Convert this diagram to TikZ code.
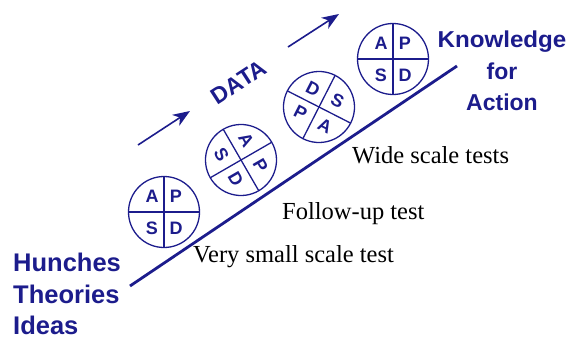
\documentclass[tikz,border=0pt]{standalone}
\usepackage{fontspec}
\setmainfont{Liberation Serif}
\setsansfont{Liberation Sans}
\usetikzlibrary{arrows.meta}
\definecolor{navy}{RGB}{28,28,140}
\tikzset{
  pdca/.style={circle, draw=navy, line width=1.3pt, minimum size=71pt, inner sep=0pt, outer sep=0pt},
  cross/.style={draw=navy, line width=1.3pt},
  letter/.style={text=navy, font=\sffamily\bfseries\fontsize{18}{20}\selectfont, inner sep=0pt},
  bigword/.style={text=navy, font=\sffamily\bfseries\fontsize{25.5}{28}\selectfont, inner sep=0pt, anchor=base west},
  kword/.style={text=navy, font=\sffamily\bfseries\fontsize{23}{26}\selectfont, inner sep=0pt, anchor=base},
  scalenote/.style={text=black, font=\fontsize{24.5}{26}\selectfont, inner sep=0pt, anchor=base west},
  dataarrow/.style={draw=navy, line width=1.6pt, -{Stealth[length=17pt,width=13pt,inset=5pt]}},
}
\begin{document}
\begin{tikzpicture}[x=1pt,y=-1pt]
\useasboundingbox (0,0) rectangle (574,338);

% main line
\coordinate (ls) at (130,286);
\coordinate (le) at (457,66);
\draw[navy, line width=2.8pt] (ls) -- (le);

% data arrows
\coordinate (a1s) at (138,145);
\coordinate (a1e) at (190,111);
\coordinate (a2s) at (288,47);
\coordinate (a2e) at (339,14);
\draw[dataarrow] (a1s) -- (a1e);
\draw[dataarrow] (a2s) -- (a2e);
\node[text=navy, font=\sffamily\bfseries\fontsize{23}{26}\selectfont, rotate=33, inner sep=0pt] (data) at (239,82) {DATA};

% circle 1
\node[pdca] (c1) at (164,212) {};
\draw[cross] (c1.north) -- (c1.south);
\draw[cross] (c1.west) -- (c1.east);
\node[letter] (c1a) at ([shift={(-12,-16)}]c1.center) {A};
\node[letter] (c1p) at ([shift={(12,-16)}]c1.center) {P};
\node[letter] (c1s) at ([shift={(-12,16)}]c1.center) {S};
\node[letter] (c1d) at ([shift={(12,16)}]c1.center) {D};

% circle 2
\node[pdca, rotate=-60] (c2) at (241,160) {};
\draw[cross] (c2.north) -- (c2.south);
\draw[cross] (c2.west) -- (c2.east);
\node[letter, rotate=-60] (c2a) at ([shift={(5.2,-19.5)}]c2.center) {A};
\node[letter, rotate=-60] (c2p) at ([shift={(19.5,5.2)}]c2.center) {P};
\node[letter, rotate=-60] (c2d) at ([shift={(-5.2,19.5)}]c2.center) {D};
\node[letter, rotate=-60] (c2s) at ([shift={(-19.5,-5.2)}]c2.center) {S};

% circle 3
\node[pdca, rotate=-27] (c3) at (319,107) {};
\draw[cross] (c3.north) -- (c3.south);
\draw[cross] (c3.west) -- (c3.east);
\node[letter, rotate=-27] (c3d) at ([shift={(-6,-18.5)}]c3.center) {D};
\node[letter, rotate=-27] (c3s) at ([shift={(18.5,-6)}]c3.center) {S};
\node[letter, rotate=-27] (c3p) at ([shift={(-18.5,6)}]c3.center) {P};
\node[letter, rotate=-27] (c3a) at ([shift={(6,18.5)}]c3.center) {A};

% circle 4
\node[pdca] (c4) at (393,59) {};
\draw[cross] (c4.north) -- (c4.south);
\draw[cross] (c4.west) -- (c4.east);
\node[letter] (c4a) at ([shift={(-12,-16)}]c4.center) {A};
\node[letter] (c4p) at ([shift={(12,-16)}]c4.center) {P};
\node[letter] (c4s) at ([shift={(-12,16)}]c4.center) {S};
\node[letter] (c4d) at ([shift={(12,16)}]c4.center) {D};

% left labels
\node[bigword] (hunches) at (13,271) {Hunches};
\node[bigword] (theories) at (13,303) {Theories};
\node[bigword] (ideas) at (13,334) {Ideas};

% right labels
\node[kword, xscale=1.05] (know) at (502,47) {Knowledge};
\node[kword] (for) at (502,79) {for};
\node[kword] (action) at (502,110) {Action};

% scale notes
\node[scalenote] (t1) at (193,262) {Very small scale test};
\node[scalenote] (t2) at (282,219) {Follow-up test};
\node[scalenote] (t3) at (352,163) {Wide scale tests};
\end{tikzpicture}
\end{document}
